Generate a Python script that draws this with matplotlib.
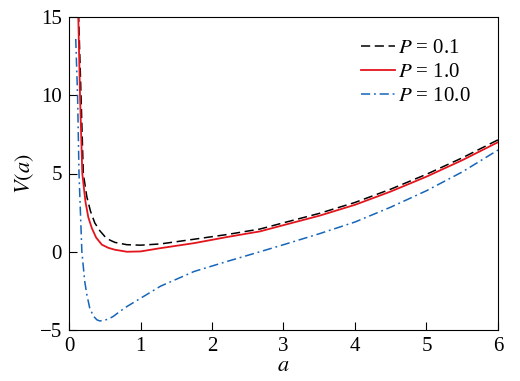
import matplotlib
matplotlib.use("Agg")
import matplotlib.pyplot as plt

plt.rcParams["font.family"] = ["Liberation Serif", "DejaVu Serif"]
plt.rcParams["mathtext.fontset"] = "stix"

# P = 0.1
a_p01 = [0.125, 0.135, 0.168, 0.2, 0.25, 0.3, 0.36, 0.43, 0.5, 0.57, 0.64, 0.81,
         1.0, 1.28, 1.75, 2.21, 2.67, 3.0, 3.5, 4.0, 4.5, 5.0, 5.5, 6.0]
v_p01 = [16.5, 15.0, 10.0, 5.0, 3.5, 2.6, 1.85, 1.35, 0.98, 0.75, 0.6, 0.45,
         0.42, 0.5, 0.8, 1.1, 1.45, 1.85, 2.45, 3.15, 4.0, 4.95, 6.0, 7.15]

# P = 1.0
a_p1 = [0.12, 0.13, 0.154, 0.186, 0.23, 0.27, 0.32, 0.38, 0.46, 0.55, 0.64, 0.81,
        1.0, 1.28, 1.75, 2.21, 2.67, 3.0, 3.5, 4.0, 4.5, 5.0, 5.5, 6.0]
v_p1 = [16.5, 15.0, 10.0, 5.0, 3.2, 2.2, 1.5, 0.9, 0.45, 0.25, 0.13, 0.0,
        0.02, 0.23, 0.55, 0.94, 1.3, 1.7, 2.3, 3.0, 3.85, 4.8, 5.85, 7.0]

# P = 10.0
a_p10 = [0.094, 0.12, 0.14, 0.18, 0.22, 0.25, 0.29, 0.34, 0.39, 0.43, 0.48, 0.55,
         0.62, 0.7, 0.81, 1.28, 1.75, 2.21, 2.67, 3.0, 3.5, 4.0, 4.5, 5.0, 5.5, 6.0]
v_p10 = [13.6, 10.0, 5.0, 0.0, -1.9, -2.75, -3.6, -4.1, -4.35, -4.42, -4.4, -4.3,
         -4.13, -3.85, -3.5, -2.2, -1.26, -0.62, 0.0, 0.45, 1.15, 1.9, 2.85, 3.9, 5.1, 6.5]

fig = plt.figure(figsize=(5.2, 3.81), dpi=100)
ax = fig.add_axes([69 / 520, 51 / 381, 429 / 520, 313 / 381])

ax.plot(a_p01, v_p01, color="black", lw=1.1, dashes=(6, 3), label="$P$ = 0.1")
ax.plot(a_p1, v_p1, color="#e3141b", lw=1.3, label="$P$ = 1.0")
ax.plot(a_p10, v_p10, color="#1565b8", lw=1.1, dashes=(6, 2.5, 1.2, 2.5), label="$P$ = 10.0")

ax.set_xlim(0, 6)
ax.set_ylim(-5, 15)
ax.set_xticks([0, 1, 2, 3, 4, 5, 6])
ax.set_yticks([-5, 0, 5, 10, 15])
ax.set_yticklabels(["\u22125", "0", "5", "10", "15"])
ax.tick_params(direction="in", length=6, labelsize=15, top=False, right=False, pad=5)
ax.set_xlabel("$a$", fontsize=16, labelpad=1)
ax.set_ylabel("$V(a)$", fontsize=16, labelpad=3)

ax.legend(loc="upper right", bbox_to_anchor=(0.955, 0.958), borderaxespad=0,
          frameon=False, fontsize=15, handlelength=1.6,
          handletextpad=0.15, labelspacing=0.22)

fig.savefig("out.png", dpi=100)
